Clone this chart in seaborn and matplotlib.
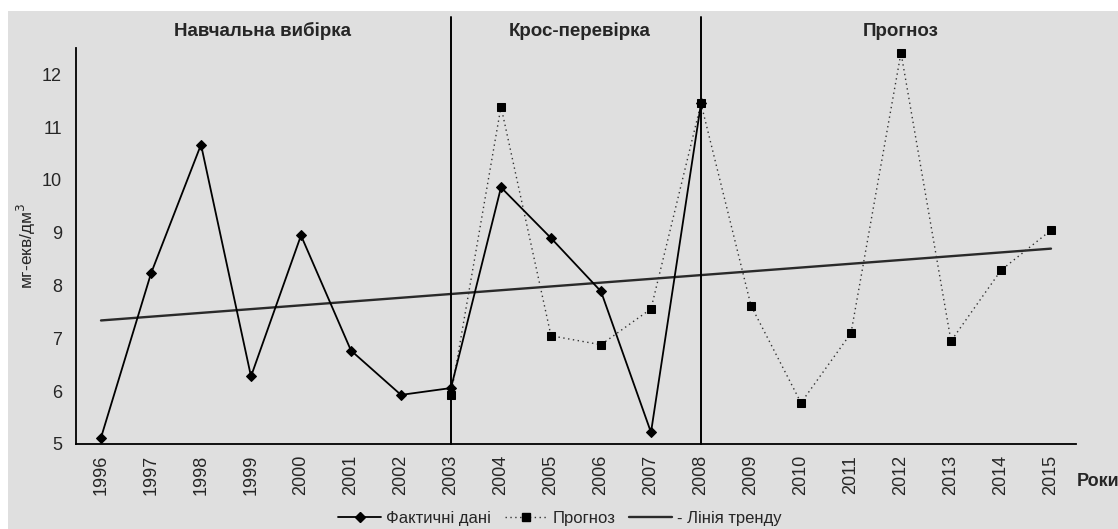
import numpy as np
import pandas as pd
import seaborn as sns
import matplotlib.pyplot as plt
from matplotlib.lines import Line2D
from matplotlib.patches import Rectangle

years = list(range(1996, 2016))
fact_years = list(range(1996, 2009))
fact_values = [5.12, 8.23, 10.67, 6.28, 8.95, 6.77, 5.93, 6.06, 9.86, 8.90, 7.89, 5.22, 11.45]
forecast_years = list(range(2003, 2016))
forecast_values = [5.93, 11.39, 7.05, 6.88, 7.56, 11.45, 7.62, 5.78, 7.10, 12.41, 6.95, 8.29, 9.05]
trend_years = [1996, 2015]
trend_values = [7.34, 8.70]
split_years = [2003, 2008]
sections = ["Навчальна вибірка", "Крос-перевірка", "Прогноз"]

sns.set_style("white")
plt.rcParams['font.family'] = ['Liberation Sans', 'DejaVu Sans']

bg = "#dfdfdf"
fig = plt.figure(figsize=(11.18, 5.29), dpi=100, facecolor="white")
fig.patches.append(Rectangle((8 / 1118, 0), 1, 1 - 11 / 529, transform=fig.transFigure,
                             facecolor=bg, edgecolor="none", zorder=-10))
ax = fig.add_axes([76 / 1118, 1 - 444 / 529, 1000 / 1118, 396 / 529])
ax.set_facecolor(bg)

pos = {y: i for i, y in enumerate(years)}
fact_df = pd.DataFrame({"x": [pos[y] for y in fact_years], "y": fact_values})
fc_df = pd.DataFrame({"x": [pos[y] for y in forecast_years], "y": forecast_values})
tr_df = pd.DataFrame({"x": [pos[y] for y in trend_years], "y": trend_values})

sns.lineplot(data=tr_df, x="x", y="y", ax=ax, color="#2a2a2a", lw=1.7, zorder=2)
sns.lineplot(data=fc_df, x="x", y="y", ax=ax, color="#333333", lw=1.0, ls=(0, (1, 2.5)),
             marker="s", markersize=6, markerfacecolor="black", markeredgecolor="black", zorder=3)
sns.lineplot(data=fact_df, x="x", y="y", ax=ax, color="black", lw=1.3,
             marker="D", markersize=5, markerfacecolor="black", markeredgecolor="black", zorder=4)

top_ext = (444 - 17) / 396
for sy in split_years:
    ax.axvline(pos[sy], ymin=0, ymax=top_ext, color="black", lw=1.4, clip_on=False, zorder=5)

ax.set_xlim(-0.5, len(years) - 0.5)
ax.set_ylim(5, 12.5)
ax.set_yticks(range(5, 13))
ax.set_xticks(np.arange(-0.5, len(years)), labels=[])
ax.set_xticks(range(len(years)), labels=[str(y) for y in years], minor=True)
ax.tick_params(axis="x", which="major", direction="out", length=5, width=1.2, color="black")
ax.tick_params(axis="x", which="minor", length=0, labelsize=13, labelrotation=90, pad=8)
ax.tick_params(axis="y", direction="out", length=4, width=1.2, color="black", labelsize=13, pad=6)
ax.set_xlabel("")
ax.set_ylabel("мг-екв/дм$^3$", fontsize=12.5)
ax.yaxis.set_label_coords(-0.038, 0.50)
for s in ["top", "right"]:
    ax.spines[s].set_visible(False)
for s in ["left", "bottom"]:
    ax.spines[s].set_color("black")
    ax.spines[s].set_linewidth(1.3)

sec_x = [263, 580, 901]
for label, sx in zip(sections, sec_x):
    fig.text(sx / 1118, 1 - 31 / 529, label, ha="center", va="center",
             fontsize=13.5, fontweight="bold")
fig.text(1077 / 1118, 1 - 482 / 529, "Роки", ha="left", va="center", fontsize=13, fontweight="bold")

handles = [
    Line2D([], [], color="black", lw=1.3, marker="D", markersize=5),
    Line2D([], [], color="#333333", lw=1.0, ls=(0, (1, 2.5)), marker="s", markersize=6,
           markerfacecolor="black", markeredgecolor="black"),
    Line2D([], [], color="#2a2a2a", lw=1.7),
]
fig.legend(handles, ["Фактичні дані", "Прогноз", "- Лінія тренду"], loc="center",
           bbox_to_anchor=(560 / 1118, 1 - 518 / 529), ncol=3, frameon=False, fontsize=12,
           handlelength=2.6, handletextpad=0.3, columnspacing=0.8)

fig.savefig("out.png", dpi=100, facecolor=fig.get_facecolor())
